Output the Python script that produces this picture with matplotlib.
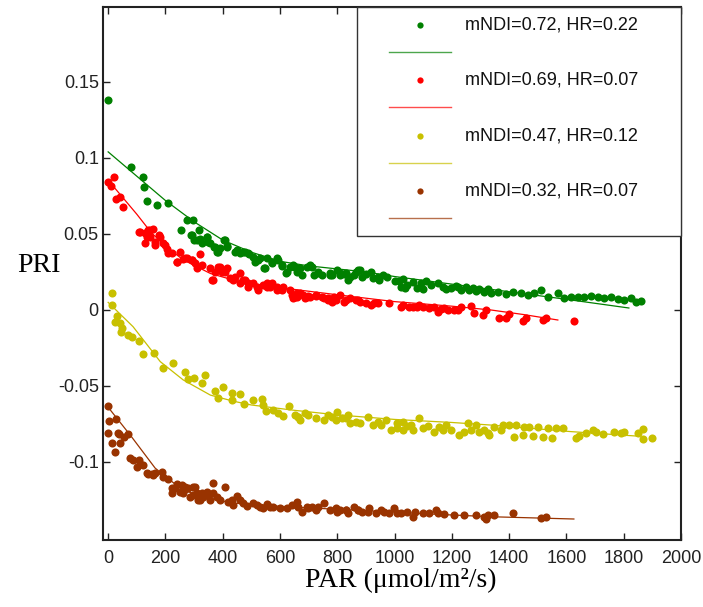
import matplotlib
matplotlib.use("Agg")
import matplotlib.pyplot as plt
from matplotlib.patches import Rectangle

# ---------------- data ----------------
labels = ["mNDI=0.72, HR=0.22", "mNDI=0.69, HR=0.07",
          "mNDI=0.47, HR=0.12", "mNDI=0.32, HR=0.07"]
colors = ["#008000", "#ff0000", "#c8c000", "#993300"]

green_par = [0, 80, 122, 126, 137, 170, 210, 253, 275, 290, 295, 300, 316, 322, 345, 350, 368, 380, 392, 405,
             415, 444, 462, 479, 493, 507, 524, 545, 556, 573, 590, 608, 622, 636, 647, 654, 671, 678, 696, 706,
             713, 717, 734, 748, 776, 783, 800, 811, 822, 829, 839, 846, 857, 874, 881, 888, 916, 923, 944, 975,
             1003, 1021, 1028, 1038, 1066, 1080, 1101, 1108, 1126, 1150, 1178, 1196, 1213, 1231, 1248, 1273,
             1283, 1311, 1325, 1336, 1360, 1388, 1413, 1441, 1465, 1486, 1510, 1535, 1570, 1591, 1615, 1640,
             1661, 1685, 1710, 1731, 1755, 1780, 1801, 1825, 1843, 1860,
             293, 311, 329, 346, 357, 374, 385, 409, 416, 451, 472, 490, 514, 531, 549, 573, 594, 608, 626, 654,
             661, 734, 776, 811, 864, 899, 941, 958, 1014, 1045, 1091, 1168, 1220, 1259, 1294]
green_pri = [0.138, 0.094, 0.0875, 0.081, 0.072, 0.069, 0.0705, 0.0525, 0.059, 0.049, 0.0595, 0.046, 0.0525,
             0.047, 0.048, 0.045, 0.0415, 0.038, 0.041, 0.046, 0.0415, 0.038, 0.0375, 0.038, 0.037, 0.035, 0.033,
             0.0275, 0.034, 0.0315, 0.034, 0.0295, 0.0245, 0.0285, 0.0295, 0.0285, 0.0275, 0.023, 0.0285, 0.0295,
             0.0285, 0.023, 0.0245, 0.023, 0.023, 0.023, 0.026, 0.023, 0.0237, 0.0245, 0.0195, 0.0217, 0.023,
             0.026, 0.0263, 0.0217, 0.025, 0.021, 0.0197, 0.0217, 0.019, 0.015, 0.0205, 0.0145, 0.0184, 0.0145,
             0.0138, 0.019, 0.0164, 0.0178, 0.0138, 0.0145, 0.0158, 0.013, 0.015, 0.0145, 0.0125, 0.012, 0.0138,
             0.011, 0.012, 0.0105, 0.012, 0.011, 0.0099, 0.011, 0.013, 0.0086, 0.011, 0.0079, 0.0086, 0.0086,
             0.0086, 0.0092, 0.0086, 0.0079, 0.0086, 0.0072, 0.0066, 0.0079, 0.0053, 0.006,
             0.0493, 0.046, 0.044, 0.048, 0.044, 0.0415, 0.038, 0.046, 0.042, 0.0395, 0.038, 0.0375, 0.0316,
             0.034, 0.0276, 0.031, 0.033, 0.029, 0.025, 0.0285,
             0.025, 0.025, 0.0245, 0.0245, 0.025, 0.0237, 0.0217, 0.0230, 0.019, 0.0164, 0.0178, 0.0151,
             0.0151, 0.013, 0.0138]

red_par = [0, 10, 21, 28, 42, 52, 110, 127, 129, 140, 147, 157, 164, 178, 192, 206, 223, 241, 252, 262, 276,
           293, 304, 322, 329, 357, 367, 385, 399, 416, 427, 437, 462, 462, 479, 490, 507, 524, 542, 556, 573,
           590, 612, 636, 647, 654, 671, 682, 689, 699, 706, 724, 748, 752, 769, 783, 787, 811, 822, 846, 871,
           881, 916, 927, 979, 1021, 1031, 1063, 1084, 1101, 1136, 1150, 1171, 1206, 1231, 1266, 1276, 1308,
           1318, 1364, 1388, 1399, 1448, 1458, 1517, 1528, 1626,
           108, 136, 147, 164, 182, 199, 210, 241, 269, 293, 311, 363, 374, 392, 409, 444, 472, 490, 521, 556,
           566, 590, 608, 643, 661, 661, 696, 724, 766, 794, 829, 864, 899, 941, 1049, 1080, 1119, 1161, 1185,
           1220]
red_pri = [0.084, 0.0817, 0.0877, 0.073, 0.074, 0.068, 0.0515, 0.0505, 0.044, 0.0525, 0.048, 0.053, 0.0447,
           0.049, 0.044, 0.040, 0.0375, 0.0318, 0.038, 0.0336, 0.0342, 0.033, 0.031, 0.0368, 0.0296, 0.0276,
           0.0197, 0.0283, 0.025, 0.0276, 0.021, 0.0197, 0.0243, 0.0178, 0.0197, 0.0151, 0.0178, 0.0132, 0.0164,
           0.015, 0.0178, 0.0132, 0.0151, 0.0132, 0.0079, 0.0086, 0.0112, 0.0099, 0.0079, 0.0092, 0.0086, 0.0092,
           0.0086, 0.0079, 0.0066, 0.0053, 0.0086, 0.0099, 0.0053, 0.0079, 0.0066, 0.0053, 0.0033, 0.0046, 0.0046,
           0.002, 0.0033, 0.002, 0.0033, 0.002, 0.002, -0.0013, 0.0013, 0.0, 0.002, 0.0026, -0.002, -0.0033, 0.0,
           -0.0053, -0.0053, -0.0026, -0.0072, -0.0053, -0.0066, -0.0053, -0.0072,
           0.0513, 0.048, 0.0526, 0.0428, 0.048, 0.043, 0.0375, 0.0316, 0.034, 0.033, 0.0276, 0.0197, 0.025,
           0.0283, 0.025, 0.0217, 0.0197, 0.0178, 0.0151, 0.0178, 0.0151, 0.0151, 0.0132, 0.0099, 0.0112,
           0.0086, 0.0086, 0.0099, 0.0079, 0.0066, 0.0066, 0.0066, 0.0046, 0.0046, 0.002, 0.002, 0.0013,
           0.0007, 0.0, 0.0]

yellow_par = [13, 13, 25, 32, 42, 45, 49, 70, 84, 109, 122, 161, 192, 227, 269, 280, 301, 329, 339, 374, 385,
              402, 434, 434, 462, 476, 507, 538, 542, 552, 577, 594, 612, 633, 654, 664, 671, 689, 699, 752, 766,
              794, 800, 818, 839, 846, 881, 906, 923, 951, 969, 986, 1010, 1028, 1031, 1056, 1066, 1084, 1098,
              1136, 1154, 1178, 1196, 1224, 1241, 1255, 1283, 1294, 1311, 1325, 1329, 1346, 1371, 1378, 1399,
              1416, 1423, 1448, 1451, 1469, 1483, 1500, 1517, 1535, 1549, 1563, 1587, 1633, 1643, 1668, 1692,
              1703, 1727, 1766, 1790, 1801, 1850, 1867, 1867, 1899,
              664, 724, 783, 829, 864, 941, 1010, 1045, 1115, 1168, 1266]
yellow_pri = [0.0112, 0.0033, -0.0079, -0.004, -0.0086, -0.0145, -0.012, -0.0165, -0.0178, -0.0204, -0.029,
              -0.0283, -0.0382, -0.0349, -0.0408, -0.0454, -0.0447, -0.048, -0.0428, -0.0533, -0.0579, -0.0507,
              -0.0546, -0.0592, -0.055, -0.0618, -0.0592, -0.0586, -0.0625, -0.0664, -0.0658, -0.0678, -0.0697,
              -0.0632, -0.0691, -0.0704, -0.0724, -0.0678, -0.069, -0.0724, -0.0691, -0.0724, -0.0671, -0.071,
              -0.0691, -0.0743, -0.0743, -0.0704, -0.0757, -0.0757, -0.0724, -0.079, -0.0776, -0.0737, -0.079,
              -0.0757, -0.079, -0.071, -0.0776, -0.0803, -0.077, -0.0757, -0.079, -0.0822, -0.0803, -0.0743,
              -0.0757, -0.0803, -0.079, -0.0809, -0.0822, -0.077, -0.079, -0.0757, -0.0757, -0.0836, -0.0757,
              -0.0822, -0.077, -0.077, -0.0829, -0.077, -0.0836, -0.0776, -0.0842, -0.0776, -0.0776, -0.0842,
              -0.0829, -0.0809, -0.079, -0.0803, -0.0816, -0.0803, -0.0809, -0.0803, -0.0809, -0.0783, -0.0849,
              -0.0842,
              -0.0704, -0.071, -0.0704, -0.071, -0.0737, -0.0737, -0.0743, -0.0763, -0.0763, -0.079, -0.079]

brown_par = [0, 3, 28, 0, 14, 24, 35, 38, 42, 56, 70, 77, 87, 101, 108, 112, 122, 136, 140, 154, 157, 164,
             189, 192, 210, 224, 241, 252, 259, 262, 269, 280, 287, 297, 304, 311, 315, 322, 332, 346, 357, 367,
             381, 392, 409, 420, 437, 451, 462, 486, 507, 531, 542, 556, 577, 601, 626, 643, 661, 678, 696, 699,
             724, 731, 752, 776, 800, 811, 829, 839, 857, 871, 888, 909, 934, 962, 997, 1021, 1045, 1066, 1101,
             1143, 1171, 1206, 1241, 1283, 1311, 1318, 1325, 1346, 1413, 1510, 1528,
             224, 234, 269, 297, 329, 350, 367, 434, 472, 521, 566, 664, 713, 794, 829, 871, 906, 951, 979, 1010,
             1073, 1119, 1150]
brown_pri = [-0.0632, -0.073, -0.0717, -0.081, -0.0875, -0.0934, -0.081, -0.0816, -0.0875, -0.0836, -0.0816,
             -0.0974, -0.0987, -0.1033, -0.0987, -0.1013, -0.102, -0.107, -0.1079, -0.1079, -0.1086, -0.1073,
             -0.1066, -0.1099, -0.1112, -0.1171, -0.1145, -0.1197, -0.1151, -0.1204, -0.1164, -0.1171, -0.123,
             -0.1164, -0.1164, -0.1204, -0.125, -0.125, -0.123, -0.1197, -0.125, -0.1138, -0.123, -0.125, -0.1164,
             -0.1263, -0.1283, -0.1224, -0.125, -0.129, -0.127, -0.1296, -0.1303, -0.1276, -0.1296, -0.1303,
             -0.1303, -0.1283, -0.1263, -0.1329, -0.1296, -0.1303, -0.1316, -0.1296, -0.127, -0.1316, -0.1329,
             -0.1316, -0.1316, -0.1336, -0.1296, -0.1316, -0.1329, -0.1303, -0.1336, -0.1329, -0.1303, -0.1336,
             -0.1329, -0.136, -0.1336, -0.1316, -0.1342, -0.1349, -0.1349, -0.1349, -0.136, -0.1375, -0.1349,
             -0.1349, -0.1336, -0.137, -0.1362,
             -0.1204, -0.1171, -0.1178, -0.1217, -0.1204, -0.1217, -0.1204, -0.125, -0.127, -0.1283, -0.1296,
             -0.1296, -0.1296, -0.1303, -0.1316, -0.1316, -0.1329, -0.1316, -0.1336, -0.1336, -0.1329, -0.1336,
             -0.1336]

# fitted curves
green_fit_par = [0, 100, 200, 300, 400, 500, 600, 700, 800, 900, 1000, 1200, 1400, 1600, 1818]
green_fit_pri = [0.104, 0.088, 0.072, 0.058, 0.046, 0.038, 0.032, 0.029, 0.027, 0.025, 0.022, 0.017, 0.012,
                 0.007, 0.0013]
red_fit_par = [24, 100, 150, 200, 262, 357, 450, 550, 671, 800, 1000, 1200, 1336, 1450, 1570]
red_fit_pri = [0.080, 0.063, 0.051, 0.042, 0.033, 0.024, 0.019, 0.016, 0.013, 0.010, 0.0055, 0.0025, 0.0,
               -0.003, -0.0066]
yellow_fit_par = [0, 87, 182, 262, 357, 437, 500, 650, 800, 1000, 1200, 1336, 1615, 1850]
yellow_fit_pri = [0.005, -0.011, -0.034, -0.046, -0.056, -0.060, -0.0625, -0.066, -0.069, -0.072, -0.074,
                  -0.0757, -0.080, -0.083]
brown_fit_par = [0, 80, 164, 250, 322, 437, 636, 900, 1100, 1336, 1626]
brown_fit_pri = [-0.064, -0.083, -0.104, -0.117, -0.123, -0.127, -0.1296, -0.132, -0.134, -0.136, -0.1375]

x_ticks = [0, 200, 400, 600, 800, 1000, 1200, 1400, 1600, 1800, 2000]
y_ticks = [-0.1, -0.05, 0, 0.05, 0.1, 0.15]
y_tick_labels = ["-0.1", "-0.05", "0", "0.05", "0.1", "0.15"]

# ---------------- plot ----------------
plt.rcParams["font.family"] = ["Liberation Sans", "DejaVu Sans"]

fig = plt.figure(figsize=(7.03, 6.07), dpi=100)
ax = fig.add_axes([0.1465, 0.1104, 0.8222, 0.8781])

points = [(green_par, green_pri), (red_par, red_pri), (yellow_par, yellow_pri), (brown_par, brown_pri)]
fits = [(green_fit_par, green_fit_pri), (red_fit_par, red_fit_pri),
        (yellow_fit_par, yellow_fit_pri), (brown_fit_par, brown_fit_pri)]

for (px, py), (fx, fy), c in zip(points, fits, colors):
    ax.scatter(px, py, s=34, color=c, linewidths=0, zorder=2)
    ax.plot(fx, fy, color=c, lw=0.9, zorder=3)

ax.set_xlim(-18, 2000)
ax.set_ylim(-0.1513, 0.1993)
ax.set_xticks(x_ticks)
ax.set_yticks(y_ticks)
ax.set_yticklabels(y_tick_labels)
ax.tick_params(direction="in", top=True, right=True, length=5, width=1, labelsize=13, colors="#222222")
ax.tick_params(axis="x", pad=7)
ax.tick_params(axis="y", pad=3)
for s in ax.spines.values():
    s.set_linewidth(1.5)
    s.set_color("#222222")

# legend box
ax.add_patch(Rectangle((0.439, 0.570), 0.561, 0.430, transform=ax.transAxes,
                       facecolor="white", edgecolor="#333333", lw=1.0, zorder=5, clip_on=False))
row_marker = [0.966, 0.863, 0.758, 0.655]
row_line = [0.916, 0.812, 0.707, 0.604]
for lab, c, ym, yl in zip(labels, colors, row_marker, row_line):
    ax.plot([0.548], [ym], marker="o", ms=4.5, mew=0, color=c, transform=ax.transAxes, zorder=6, clip_on=False)
    ax.plot([0.495, 0.602], [yl, yl], color=c, lw=1.0, alpha=0.7, transform=ax.transAxes, zorder=6)
    ax.text(0.626, ym, lab, transform=ax.transAxes, fontsize=13, va="center", ha="left",
            color="#111111", zorder=7)

fig.text(39 / 703, 1 - 265 / 607, "PRI", family=["Liberation Serif", "DejaVu Serif"], fontsize=20,
         ha="center", va="center")
fig.text(401 / 703, 1 - 580 / 607, "PAR (\u03bcmol/m\u00b2/s)", family=["Liberation Serif", "DejaVu Serif"],
         fontsize=20, ha="center", va="center")

fig.savefig("out.png", dpi=100)
